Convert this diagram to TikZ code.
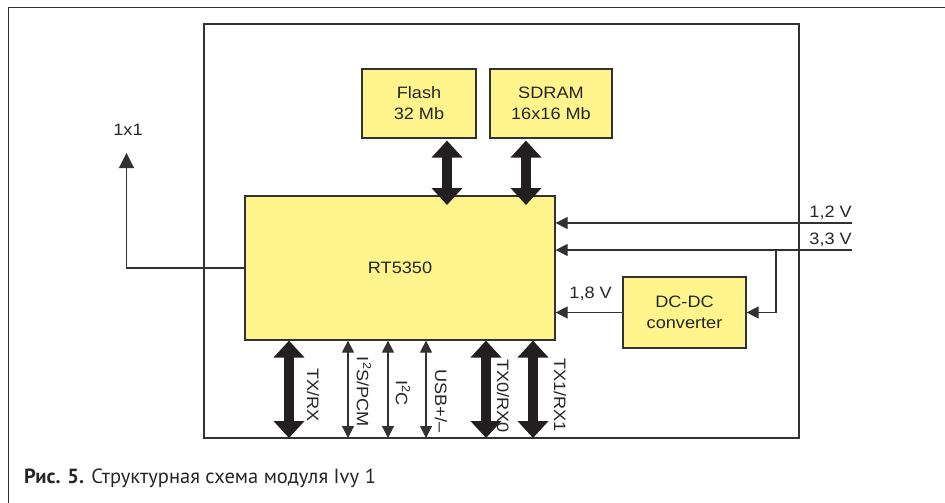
\documentclass[tikz,border=0pt]{standalone}
\usepackage{fontspec}
\setmainfont{Liberation Sans}[FakeStretch=1.1]
\newfontfamily\capfont{PT Sans}
\usetikzlibrary{arrows.meta}
\definecolor{boxyellow}{RGB}{255,245,140}
\definecolor{linegray}{RGB}{50,50,50}
\definecolor{arrowdark}{RGB}{35,31,32}
\begin{document}
\begin{tikzpicture}[x=1pt,y=-1pt,
  every node/.style={font=\fontsize{16.5}{21}\selectfont, text=black!85},
  block/.style={draw=linegray, line width=1.2pt, fill=boxyellow, inner sep=0pt, align=center},
  thinarr/.style={draw=linegray, line width=1.1pt, -{Triangle[length=12pt,width=12pt]}},
  thinboth/.style={draw=linegray, line width=1.1pt, {Triangle[length=12pt,width=12pt]}-{Triangle[length=12pt,width=12pt]}},
  bigboth/.style={draw=arrowdark, line width=10pt, {Triangle[length=17pt,width=30pt]}-{Triangle[length=17pt,width=30pt]}},
  vlabel/.style={rotate=-90, inner sep=0pt}
]
\useasboundingbox (0,0) rectangle (945,503);
% outer frame
\coordinate (frtr) at (945,7.5);
\coordinate (frbl) at (8.5,503);
\draw[linegray, line width=1.3pt] (frtr) -| (frbl);
% module frame
\node[draw=linegray, line width=1.3pt, minimum width=595pt, minimum height=414pt, inner sep=0pt] (module) at (501.5,231) {};
% blocks
\node[block, minimum width=114pt, minimum height=69pt] (flash) at (419,103.5) {Flash\\32 Mb};
\node[block, minimum width=122pt, minimum height=69pt] (sdram) at (551,103.5) {SDRAM\\16x16 Mb};
\node[block, minimum width=310pt, minimum height=144pt] (rt) at (400,268) {RT5350};
\node[block, minimum width=123pt, minimum height=71pt] (dc) at (684.5,312.5) {DC-DC\\converter};
% memory buses
\coordinate (fa) at (447,205);
\coordinate (sa) at (526,205);
\draw[bigboth] ([yshift=-2pt]fa |- flash.south) -- (fa);
\draw[bigboth] ([yshift=-2pt]sa |- sdram.south) -- (sa);
% 1x1
\node (l1x1) at (128,130) {1x1};
\coordinate (c1x1) at (126.5,153);
\draw[thinarr, -{Triangle[length=15pt,width=15pt]}] (rt.west) -| (c1x1);
% power
\coordinate (p12) at (852,223);
\coordinate (p33) at (852,250);
\coordinate (br) at (776,250);
\draw[thinarr] (p12) -- (rt.east |- p12);
\draw[thinarr] (p33) -- (rt.east |- p33);
\draw[thinarr] (br) |- (dc.east);
\draw[thinarr] (dc.west) -- (rt.east |- dc.west);
\node[anchor=base east, inner sep=0pt] (v12) at (852,217) {1,2 V};
\node[anchor=base east, inner sep=0pt] (v33) at (852,244) {3,3 V};
\node[anchor=base east, inner sep=0pt] (v18) at (612,298) {1,8 V};
% bottom buses
\coordinate (b1) at (289,438);
\coordinate (b2) at (348,438);
\coordinate (b3) at (388,438);
\coordinate (b4) at (426,438);
\coordinate (b5) at (486,438);
\coordinate (b6) at (533,438);
\draw[bigboth] (b1 |- rt.south) -- (b1);
\draw[thinboth] (b2 |- rt.south) -- (b2);
\draw[thinboth] (b3 |- rt.south) -- (b3);
\draw[thinboth] (b4 |- rt.south) -- (b4);
\draw[bigboth] (b5 |- rt.south) -- (b5);
\draw[bigboth] (b6 |- rt.south) -- (b6);
\node[vlabel] (t1) at (313,395) {TX/RX};
\node[vlabel] (t2) at (364,392) {I\textsuperscript{2}S/PCM};
\node[vlabel] (t3) at (403,393) {I\textsuperscript{2}C};
\node[vlabel] (t4) at (441,401) {USB+/–};
\node[vlabel] (t5) at (503,396) {TX0/RX0};
\node[vlabel] (t6) at (560,395) {TX1/RX1};
% caption
\node[anchor=base west, inner sep=0pt, font=\capfont\fontsize{20.5}{24}\selectfont, text=black!85] (cap) at (24,483) {\textbf{Рис. 5.} Структурная схема модуля Ivy 1};
\end{tikzpicture}
\end{document}
